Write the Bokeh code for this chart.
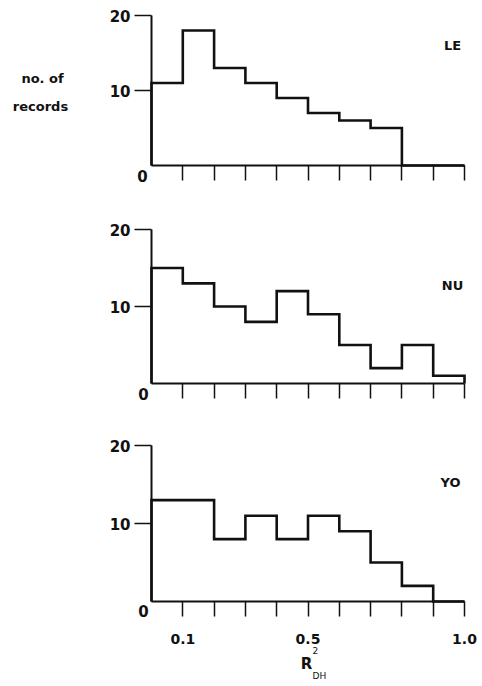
from bokeh.plotting import figure
from bokeh.layouts import column
from bokeh.models import Range1d, FixedTicker, Label, LinearAxis
from bokeh.embed import file_html
from bokeh.resources import INLINE

# Histogram of R^2_DH per site: counts per 0.1-wide bin from 0.0 to 1.0
bin_lo = [0.0, 0.1, 0.2, 0.3, 0.4, 0.5, 0.6, 0.7, 0.8, 0.9]
bin_width = 0.1
le_counts = [11, 18, 13, 11, 9, 7, 6, 5, 0, 0]
nu_counts = [15, 13, 10, 8, 12, 9, 5, 2, 5, 1]
yo_counts = [13, 13, 8, 11, 8, 11, 9, 5, 2, 0]
site_names = ["LE", "NU", "YO"]

x_ticks = [0.1, 0.2, 0.3, 0.4, 0.5, 0.6, 0.7, 0.8, 0.9, 1.0]
x_tick_labels = {0.1: "0.1", 0.5: "0.5", 1.0: "1.0"}
y_ticks = [10, 20]

FONT = "DejaVu Sans"
INK = "#111111"
WIDTH = 482
LEFT_PX = 151      # pixel column of x = 0
PX_PER_X = 313     # pixels per unit of R^2


def outline(counts):
    """Step outline of a histogram: up the left edge, across each bin, down the right edge."""
    xs, ys = [bin_lo[0]], [0]
    for lo, c in zip(bin_lo, counts):
        xs += [lo, lo + bin_width]
        ys += [c, c]
    xs.append(bin_lo[-1] + bin_width)
    ys.append(0)
    return xs, ys


def text(p, s, dx, dy, size, bold=True, align="center", baseline="middle"):
    """Text placed in pixels relative to the panel origin (0, 0)."""
    p.add_layout(Label(x=0, y=0, x_offset=dx, y_offset=dy, text=s, text_font=FONT,
                       text_font_style="bold" if bold else "normal",
                       text_font_size=size, text_color=INK,
                       text_align=align, text_baseline=baseline))


def panel(counts, name, height, zero_px, top20_px, name_off, zero_off, show_x_labels):
    px_per_y = (zero_px - top20_px) / 20.0
    x_range = Range1d(-LEFT_PX / PX_PER_X, (WIDTH - LEFT_PX) / PX_PER_X)
    y_range = Range1d(-(height - zero_px) / px_per_y, zero_px / px_per_y)
    p = figure(width=WIDTH, height=height, output_backend="svg", toolbar_location=None,
               x_range=x_range, y_range=y_range,
               x_axis_location=None, y_axis_location=None,
               min_border=0, min_border_left=0, min_border_right=0,
               min_border_top=0, min_border_bottom=0)
    p.outline_line_color = None
    p.grid.visible = False
    p.background_fill_color = "white"
    p.border_fill_color = "white"

    xs, ys = outline(counts)
    p.line(xs, ys, line_color=INK, line_width=2.6, line_join="miter")

    xa = LinearAxis(fixed_location=0, bounds=(0, 1.0), ticker=FixedTicker(ticks=x_ticks))
    ya = LinearAxis(fixed_location=0, bounds=(0, 20), ticker=FixedTicker(ticks=y_ticks))
    for ax in (xa, ya):
        ax.axis_line_width = 2
        ax.axis_line_color = INK
        ax.major_tick_line_width = 1.5
        ax.major_tick_line_color = INK
        ax.major_tick_in = 0
        ax.minor_tick_line_color = None
        ax.major_label_text_font = FONT
        ax.major_label_text_font_style = "bold"
        ax.major_label_text_color = INK

    xa.major_tick_out = 15
    xa.major_label_overrides = {t: (x_tick_labels.get(t, "") if show_x_labels else "")
                                for t in x_ticks}
    xa.major_label_text_font_size = "14px"
    xa.major_label_standoff = 17

    ya.major_tick_out = 17
    ya.major_label_standoff = 4
    ya.major_label_text_font_size = "15px"

    p.add_layout(xa, "below")
    p.add_layout(ya, "left")

    # "0" sits below-left of the origin rather than beside a tick
    text(p, "0", zero_off[0], zero_off[1], "15px")
    text(p, name, name_off[0], name_off[1], "13px")
    return p


p1 = panel(le_counts, site_names[0], 200, 165, 15, (301, 120), (-9, -10), False)
p2 = panel(nu_counts, site_names[1], 205, 183, 29, (301, 98), (-8, -10), False)
p3 = panel(yo_counts, site_names[2], 281, 196, 40, (299, 119), (-8, -9), True)

# y-axis caption on the top panel
text(p1, "no. of", -109, 87, "13px", baseline="alphabetic")
text(p1, "records", -111, 59, "13px", baseline="alphabetic")

# x-axis caption R^2 with subscript DH
text(p3, "R", 155, -62, "15px")
text(p3, "2", 161, -49, "9px", bold=False, align="left")
text(p3, "DH", 161, -74, "9px", bold=False, align="left")

layout = column(p1, p2, p3, spacing=0)
open("out.html", "w").write(file_html(layout, INLINE))
